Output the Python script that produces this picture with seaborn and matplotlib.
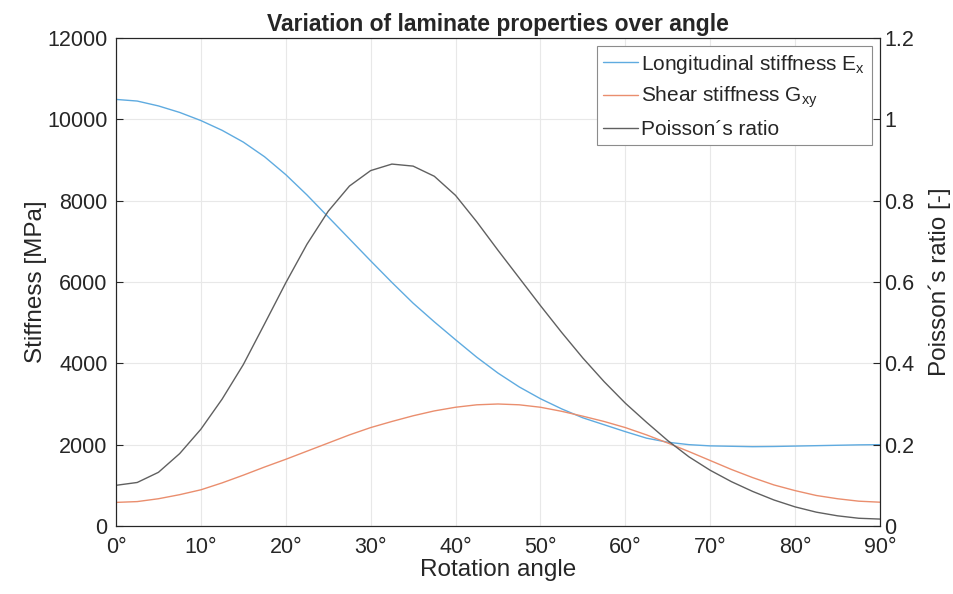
import pandas as pd
import numpy as np
import seaborn as sns
import matplotlib.pyplot as plt

# values, every 2.5 degrees
angle = [0, 2.5, 5, 7.5, 10, 12.5, 15, 17.5, 20, 22.5, 25, 27.5, 30, 32.5, 35, 37.5,
         40, 42.5, 45, 47.5, 50, 52.5, 55, 57.5, 60, 62.5, 65, 67.5, 70, 72.5, 75,
         77.5, 80, 82.5, 85, 87.5, 90]
ex = [10490, 10450, 10330, 10170, 9970, 9730, 9440, 9080, 8640, 8140, 7600, 7060,
      6520, 5990, 5480, 5020, 4580, 4150, 3760, 3420, 3130, 2880, 2660, 2490, 2320,
      2160, 2060, 2000, 1970, 1960, 1950, 1955, 1965, 1975, 1985, 1995, 2000]
gxy = [580, 600, 670, 770, 890, 1060, 1250, 1450, 1640, 1840, 2040, 2240, 2420,
       2570, 2710, 2830, 2920, 2980, 3000, 2980, 2920, 2820, 2700, 2570, 2420, 2240,
       2040, 1830, 1610, 1390, 1190, 1010, 870, 750, 670, 610, 585]
nu = [0.100, 0.107, 0.132, 0.178, 0.238, 0.312, 0.397, 0.497, 0.598, 0.693, 0.774,
      0.836, 0.874, 0.890, 0.885, 0.860, 0.813, 0.748, 0.678, 0.610, 0.542, 0.476,
      0.413, 0.355, 0.302, 0.255, 0.210, 0.170, 0.137, 0.109, 0.085, 0.064, 0.047,
      0.034, 0.025, 0.019, 0.017]

df = pd.DataFrame({'angle': angle, 'Ex': ex, 'Gxy': gxy, 'nu': nu})

sns.set_style("whitegrid")
plt.rcParams['font.family'] = ['Liberation Sans', 'DejaVu Sans']
plt.rcParams['mathtext.default'] = 'regular'

fig = plt.figure(figsize=(9.54, 5.94), dpi=100)
ax = fig.add_axes([0.1216, 0.1145, 0.8008, 0.8215])
ax2 = ax.twinx()

c_blue = '#5fabe0'
c_orange = '#ea8e6e'
c_gray = '#606060'

sns.lineplot(data=df, x='angle', y='Ex', ax=ax, color=c_blue, linewidth=1.0,
             label='Longitudinal stiffness E$_{x}$', legend=False)
sns.lineplot(data=df, x='angle', y='Gxy', ax=ax, color=c_orange, linewidth=1.0,
             label='Shear stiffness G$_{xy}$', legend=False)
sns.lineplot(data=df, x='angle', y='nu', ax=ax2, color=c_gray, linewidth=1.0,
             label='Poisson´s ratio', legend=False)

ax.set_xlim(0, 90)
ax.set_ylim(0, 12000)
ax2.set_ylim(0, 1.2)
ax.set_xticks(range(0, 91, 10))
ax.set_xticklabels([f'{a}°' for a in range(0, 91, 10)])
ax.set_yticks(range(0, 12001, 2000))
ax2.set_yticks(np.arange(0, 1.21, 0.2))
ax2.set_yticklabels(['0', '0.2', '0.4', '0.6', '0.8', '1', '1.2'])
ax2.grid(False)

ax.grid(True, color='#e8e8e8', linewidth=0.8)
for a in (ax, ax2):
    a.tick_params(direction='in', length=5, labelsize=15.5, colors='#262626',
                  width=0.8)
    for s in ('left', 'right', 'bottom', 'top'):
        a.spines[s].set_color('#262626')
        a.spines[s].set_linewidth(0.8)
ax.tick_params(axis='x', pad=8)
ax.tick_params(axis='y', pad=6)
ax2.tick_params(axis='y', pad=3)

ax.set_title('Variation of laminate properties over angle', fontsize=16.5,
             fontweight='bold', pad=5)
ax.set_xlabel('Rotation angle', fontsize=17.5, color='#262626', labelpad=1)
ax.set_ylabel('Stiffness [MPa]', fontsize=17.5, color='#262626', labelpad=0)
ax2.set_ylabel('Poisson´s ratio [-]', fontsize=17.5, color='#262626', labelpad=10)

h1, l1 = ax.get_legend_handles_labels()
h2, l2 = ax2.get_legend_handles_labels()
leg = ax2.legend(h1 + h2, l1 + l2, loc='upper right', fontsize=15,
                 fancybox=False, framealpha=1, edgecolor='#8c8c8c',
                 handlelength=1.7, handletextpad=0.15, borderpad=0.3,
                 labelspacing=0.45, borderaxespad=0.4)
leg.get_frame().set_linewidth(0.8)

fig.savefig('out.png', dpi=100)
